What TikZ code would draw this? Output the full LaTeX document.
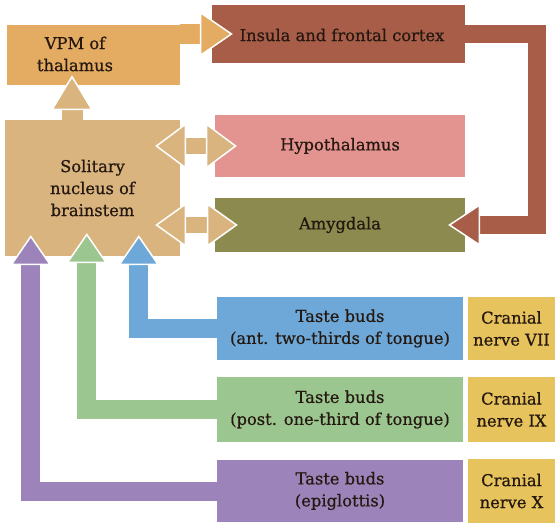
\documentclass[tikz,border=0pt]{standalone}
\usepackage{fontspec}
\setmainfont{DejaVu Serif}[FakeBold=0.6]
\usetikzlibrary{arrows.meta,calc}
\definecolor{vpmcol}{HTML}{E4AC62}
\definecolor{solcol}{HTML}{D9B47F}
\definecolor{inscol}{HTML}{A85D48}
\definecolor{hypcol}{HTML}{E39390}
\definecolor{amycol}{HTML}{8C8A4E}
\definecolor{bluecol}{HTML}{6EA8D8}
\definecolor{grncol}{HTML}{9CC690}
\definecolor{purcol}{HTML}{9C84BA}
\definecolor{cncol}{HTML}{E6C35C}
\definecolor{txtcol}{HTML}{241810}
\begin{document}
\begin{tikzpicture}[x=1pt,y=-1pt,
  box/.style={rectangle, inner sep=0pt, align=center, text=txtcol,
    font=\fontsize{16.3}{22}\selectfont},
  lbl/.style={inner sep=0pt, align=center, text=txtcol,
    font=\fontsize{16.3}{22}\selectfont}]
\useasboundingbox (0,0) rectangle (557,526);
% boxes
\node[box, fill=vpmcol, minimum width=173pt, minimum height=60pt] (vpm) at (93.5,55) {};
\node[lbl] (vpmt) at (75,54) {VPM of\\thalamus};
\node[box, fill=inscol, minimum width=253pt, minimum height=58pt] (ins) at (338.5,34) {};
\node[lbl] (inst) at (342,35) {Insula and frontal cortex};
\node[box, fill=solcol, minimum width=175pt, minimum height=136pt] (sol) at (92.5,188) {Solitary\\nucleus of\\brainstem};
\node[box, fill=hypcol, minimum width=250pt, minimum height=62pt] (hyp) at (340,146) {Hypothalamus};
\node[box, fill=amycol, minimum width=250pt, minimum height=54pt] (amy) at (340,225) {Amygdala};
\node[box, fill=bluecol, minimum width=246pt, minimum height=63pt] (tb1) at (340,328.5) {Taste buds\\(ant. two-thirds of tongue)};
\node[box, fill=grncol, minimum width=246pt, minimum height=65pt] (tb2) at (340,409.5) {Taste buds\\(post. one-third of tongue)};
\node[box, fill=purcol, minimum width=246pt, minimum height=62pt] (tb3) at (340,491) {Taste buds\\(epiglottis)};
\node[box, fill=cncol, minimum width=87pt, minimum height=63pt] (cn1) at (511.5,328.5) {Cranial\\nerve VII};
\node[box, fill=cncol, minimum width=87pt, minimum height=65pt] (cn2) at (511.5,409.5) {Cranial\\nerve IX};
\node[box, fill=cncol, minimum width=87pt, minimum height=64pt] (cn3) at (511.5,491) {Cranial\\nerve X};
% helper coordinates
\coordinate (solE) at ([xshift=-25pt]sol.east);
\coordinate (sinA) at ([xshift=26pt, yshift=21pt]sol.south west);
\coordinate (sinB) at ([xshift=82pt, yshift=23pt]sol.south west);
\coordinate (sinC) at ([xshift=134pt, yshift=21pt]sol.south west);
\coordinate (brtip) at ([xshift=-17pt]amy.east);
% arrows
\draw[solcol, line width=21pt,
  -{Triangle[length=35pt,width=42pt,line width=1.5pt,color=white,fill=solcol]}]
  ([xshift=-20.5pt]sol.north) -- ([xshift=-21.5pt,yshift=10pt]vpm.south);
\draw[vpmcol, line width=20pt,
  -{Triangle[length=33pt,width=45pt,line width=1.5pt,color=white,fill=vpmcol]}]
  ([yshift=21pt]vpm.east) -- ([xshift=21pt]ins.west);
\draw[solcol, line width=16pt,
  {Triangle[length=31pt,width=46pt,line width=1.5pt,color=white,fill=solcol]}-{Triangle[length=31pt,width=46pt,line width=1.5pt,color=white,fill=solcol]}]
  (solE |- hyp.west) -- ([xshift=22pt]hyp.west);
\draw[solcol, line width=16pt,
  {Triangle[length=31pt,width=44pt,line width=1.5pt,color=white,fill=solcol]}-{Triangle[length=31pt,width=44pt,line width=1.5pt,color=white,fill=solcol]}]
  (solE |- amy.west) -- ([xshift=23pt]amy.west);
\draw[inscol, line width=18pt,
  -{Triangle[length=32pt,width=42pt,line width=1.5pt,color=white,fill=inscol]}]
  (ins.east) -- ++(72,0) |- (brtip);
\draw[bluecol, line width=19pt,
  -{Triangle[length=30pt,width=41pt,line width=1.5pt,color=white,fill=bluecol]}]
  (tb1.west) -| (sinC);
\draw[grncol, line width=19pt,
  -{Triangle[length=30pt,width=41pt,line width=1.5pt,color=white,fill=grncol]}]
  (tb2.west) -| (sinB);
\draw[purcol, line width=19pt,
  -{Triangle[length=30pt,width=41pt,line width=1.5pt,color=white,fill=purcol]}]
  (tb3.west) -| (sinA);
\end{tikzpicture}
\end{document}
